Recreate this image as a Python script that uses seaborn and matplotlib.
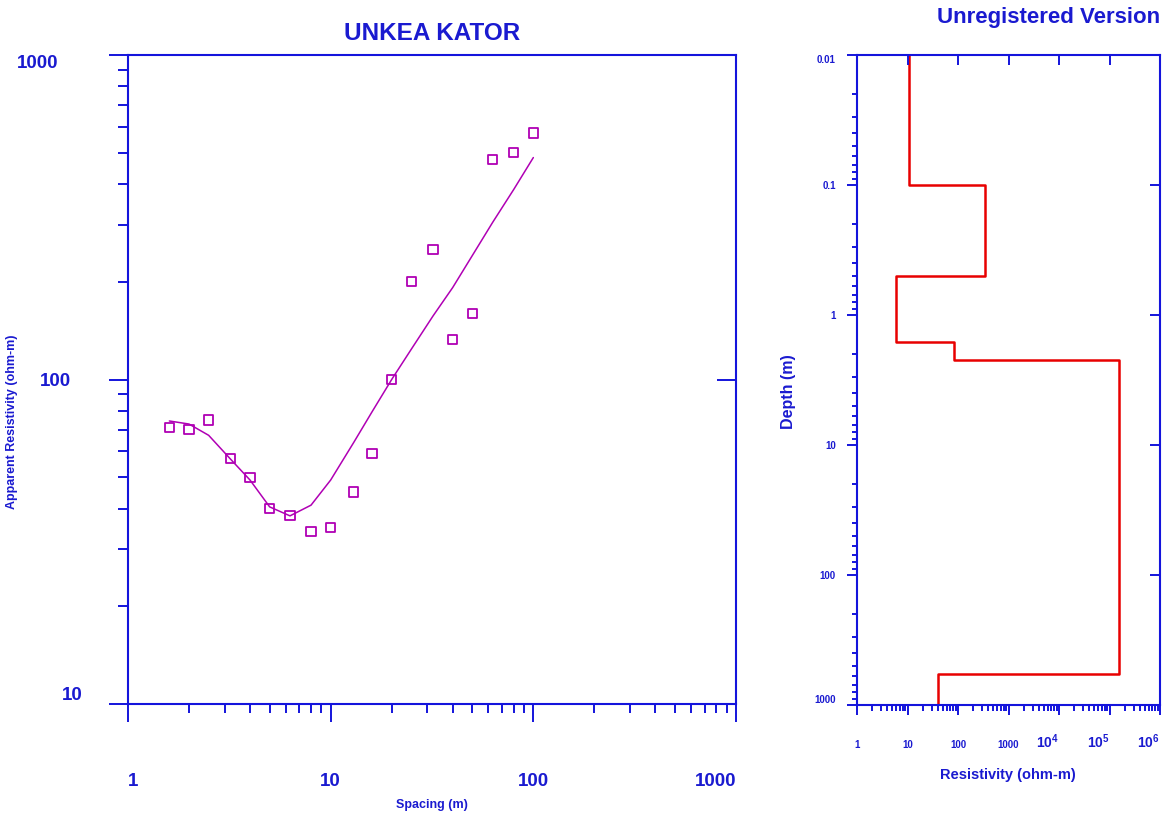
import numpy as np
import pandas as pd
import matplotlib
matplotlib.use("Agg")
import matplotlib.pyplot as plt
import seaborn as sns
from matplotlib.ticker import FixedLocator, NullFormatter, NullLocator, LogLocator

# ---------------- data ----------------
spacing = [1.6, 2, 2.5, 3.2, 4, 5, 6.3, 8, 10, 13, 16, 20, 25, 32, 40, 50, 63, 80, 100]
rho_observed = [71, 70, 75, 57, 50, 40, 38, 34, 35, 45, 59, 100, 200, 251, 133, 160, 477, 502, 575]
rho_model = [74.5, 72.9, 67.3, 56.9, 49, 40.5, 38, 41, 49, 64, 79.5, 100, 124, 157, 192, 241, 305, 385, 483]

layer_resistivity = [10.8, 336, 5.9, 82.6, 153000, 40.5]
layer_boundaries = [0.01, 0.1, 0.5, 1.6, 2.23, 578, 1000]

left_xticks = [1, 10, 100, 1000]
left_xticklabels = ["1", "10", "100", "1000"]
left_yticks = [10, 100, 1000]
left_yticklabels = ["10", "100", "1000"]
right_xticks = [1, 10, 100, 1000, 1e4, 1e5, 1e6]
right_xticklabels = ["1", "10", "100", "1000", r"$\mathbf{10^{4}}$", r"$\mathbf{10^{5}}$", r"$\mathbf{10^{6}}$"]
right_yticks = [0.01, 0.1, 1, 10, 100, 1000]
right_yticklabels = ["0.01", "0.1", "1", "10", "100", "1000"]

# ---------------- style ----------------
sns.set_theme(style="white")
plt.rcParams["font.family"] = ["Liberation Sans", "DejaVu Sans"]
plt.rcParams["font.weight"] = "bold"
plt.rcParams["mathtext.fontset"] = "custom"
plt.rcParams["mathtext.rm"] = "Liberation Sans:bold"
plt.rcParams["mathtext.bf"] = "Liberation Sans:bold"

BLUE = "#1414dc"
TXT = "#1a1ad0"
PURPLE = "#b000b4"
RED = "#e80000"

W, H = 1164, 816
fig = plt.figure(figsize=(W / 100, H / 100), dpi=100)


def pos(x0, y0, x1, y1):
    return [x0 / W, 1 - y1 / H, (x1 - x0) / W, (y1 - y0) / H]


# ================= left panel =================
lpos = pos(128, 55, 736, 704)
ax = fig.add_axes(lpos)
df = pd.DataFrame({"spacing": spacing, "observed": rho_observed, "model": rho_model})
sns.lineplot(data=df, x="spacing", y="model", ax=ax, color=PURPLE, lw=1.1,
             sort=False, estimator=None)
sns.scatterplot(data=df, x="spacing", y="observed", ax=ax, marker="s", s=44,
                facecolor="none", edgecolor=PURPLE, linewidth=1.3, zorder=3)
ax.set_xscale("log")
ax.set_yscale("log")
ax.set_xlim(1, 1000)
ax.set_ylim(10, 1000)
ax.set_xlabel("")
ax.set_ylabel("")
for sp in ax.spines.values():
    sp.set_color(BLUE)
    sp.set_linewidth(1.5)
ax.xaxis.set_major_locator(FixedLocator(left_xticks))
ax.yaxis.set_major_locator(FixedLocator(left_yticks))
ax.xaxis.set_minor_locator(LogLocator(base=10, subs=np.arange(2, 10)))
ax.yaxis.set_minor_locator(LogLocator(base=10, subs=np.arange(2, 10)))
ax.xaxis.set_minor_formatter(NullFormatter())
ax.yaxis.set_minor_formatter(NullFormatter())
ax.set_xticklabels(left_xticklabels)
ax.set_yticklabels(left_yticklabels)
ax.tick_params(which="both", direction="out", color=BLUE, width=1.4,
               labelcolor=TXT, labelsize=13.5, left=True, bottom=True)
ax.tick_params(axis="x", which="major", length=13, pad=37)
ax.tick_params(axis="x", which="minor", length=6.5)
ax.tick_params(axis="y", which="major", length=13.7, pad=27)
ax.tick_params(axis="y", which="minor", length=7)
xl = ax.get_xticklabels()
xl[0].set_ha("left")
xl[-1].set_ha("right")
yl = ax.get_yticklabels()
yl[0].set_va("bottom")
yl[0].set_x(0.018)
yl[-1].set_va("top")
yl[-1].set_x(-0.021)

# overlay for inward right tick
ax_o = fig.add_axes(lpos)
ax_o.set_xscale("log"); ax_o.set_yscale("log")
ax_o.set_xlim(1, 1000); ax_o.set_ylim(10, 1000)
ax_o.patch.set_visible(False)
for sp in ax_o.spines.values():
    sp.set_visible(False)
ax_o.xaxis.set_major_locator(NullLocator()); ax_o.xaxis.set_minor_locator(NullLocator())
ax_o.yaxis.set_major_locator(FixedLocator([100])); ax_o.yaxis.set_minor_locator(NullLocator())
ax_o.tick_params(axis="y", which="major", left=False, right=True, labelleft=False,
                 labelright=False, direction="in", length=14, width=1.4, color=BLUE)

ax.set_title("UNKEA KATOR", color=TXT, fontsize=17.5, fontweight="bold", pad=10.5)
fig.text(432 / W, 1 - 805 / H, "Spacing (m)", color=TXT, fontsize=9,
         fontweight="bold", ha="center", va="center")
fig.text(12 / W, 1 - 422 / H, "Apparent Resistivity (ohm-m)", color=TXT, fontsize=9,
         fontweight="bold", ha="center", va="center", rotation=90)

# ================= right panel =================
rpos = pos(857, 55, 1160, 705)
ax2 = fig.add_axes(rpos)
step_x, step_y = [], []
for i, r in enumerate(layer_resistivity):
    step_x += [r, r]
    step_y += [layer_boundaries[i], layer_boundaries[i + 1]]
sdf = pd.DataFrame({"resistivity": step_x, "depth": step_y})
sns.lineplot(data=sdf, x="resistivity", y="depth", ax=ax2, sort=False,
             estimator=None, color=RED, lw=1.8)
ax2.set_xscale("log"); ax2.set_yscale("log")
ax2.set_xlim(1, 1e6)
ax2.set_ylim(1000, 0.01)
ax2.set_xlabel(""); ax2.set_ylabel("")
for sp in ax2.spines.values():
    sp.set_color(BLUE)
    sp.set_linewidth(1.5)
ax2.xaxis.set_major_locator(FixedLocator(right_xticks))
ax2.yaxis.set_major_locator(FixedLocator(right_yticks))
ax2.xaxis.set_minor_locator(LogLocator(base=10, subs=np.arange(2, 10)))
ax2.yaxis.set_minor_locator(LogLocator(base=10, subs=np.arange(2, 10)))
ax2.xaxis.set_minor_formatter(NullFormatter())
ax2.yaxis.set_minor_formatter(NullFormatter())
ax2.set_xticklabels(right_xticklabels)
ax2.set_yticklabels(right_yticklabels)
ax2.tick_params(which="both", direction="out", color=BLUE, width=1.4,
                labelcolor=TXT, labelsize=7, left=True, bottom=True)
ax2.tick_params(axis="x", which="major", length=7.2, pad=24)
ax2.tick_params(axis="x", which="minor", length=4)
ax2.tick_params(axis="y", which="major", length=7.2, pad=8)
ax2.tick_params(axis="y", which="minor", length=3.8)
for lab in ax2.get_xticklabels():
    lab.set_va("baseline")
    if "10^" in lab.get_text():
        lab.set_fontsize(10)
        lab.set_ha("right")
yl2 = ax2.get_yticklabels()
yl2[0].set_va("top")
yl2[-1].set_va("bottom")

ax2_o = fig.add_axes(rpos)
ax2_o.set_xscale("log"); ax2_o.set_yscale("log")
ax2_o.set_xlim(1, 1e6); ax2_o.set_ylim(1000, 0.01)
ax2_o.patch.set_visible(False)
for sp in ax2_o.spines.values():
    sp.set_visible(False)
ax2_o.xaxis.set_major_locator(FixedLocator(right_xticks[1:-1]))
ax2_o.xaxis.set_minor_locator(NullLocator())
ax2_o.yaxis.set_major_locator(FixedLocator(right_yticks[1:-1]))
ax2_o.yaxis.set_minor_locator(NullLocator())
ax2_o.tick_params(which="major", left=False, bottom=False, top=True, right=True,
                  labelleft=False, labelbottom=False, labeltop=False, labelright=False,
                  direction="in", length=7.2, width=1.4, color=BLUE)

fig.text(1008 / W, 1 - 775 / H, "Resistivity (ohm-m)", color=TXT, fontsize=10.5,
         fontweight="bold", ha="center", va="center")
fig.text(789 / W, 1 - 392 / H, "Depth (m)", color=TXT, fontsize=11.5,
         fontweight="bold", ha="center", va="center", rotation=90)
fig.text(1160 / W, 1 - 17 / H, "Unregistered Version", color=TXT, fontsize=16,
         fontweight="bold", ha="right", va="center")

fig.savefig("out.png", dpi=100)
